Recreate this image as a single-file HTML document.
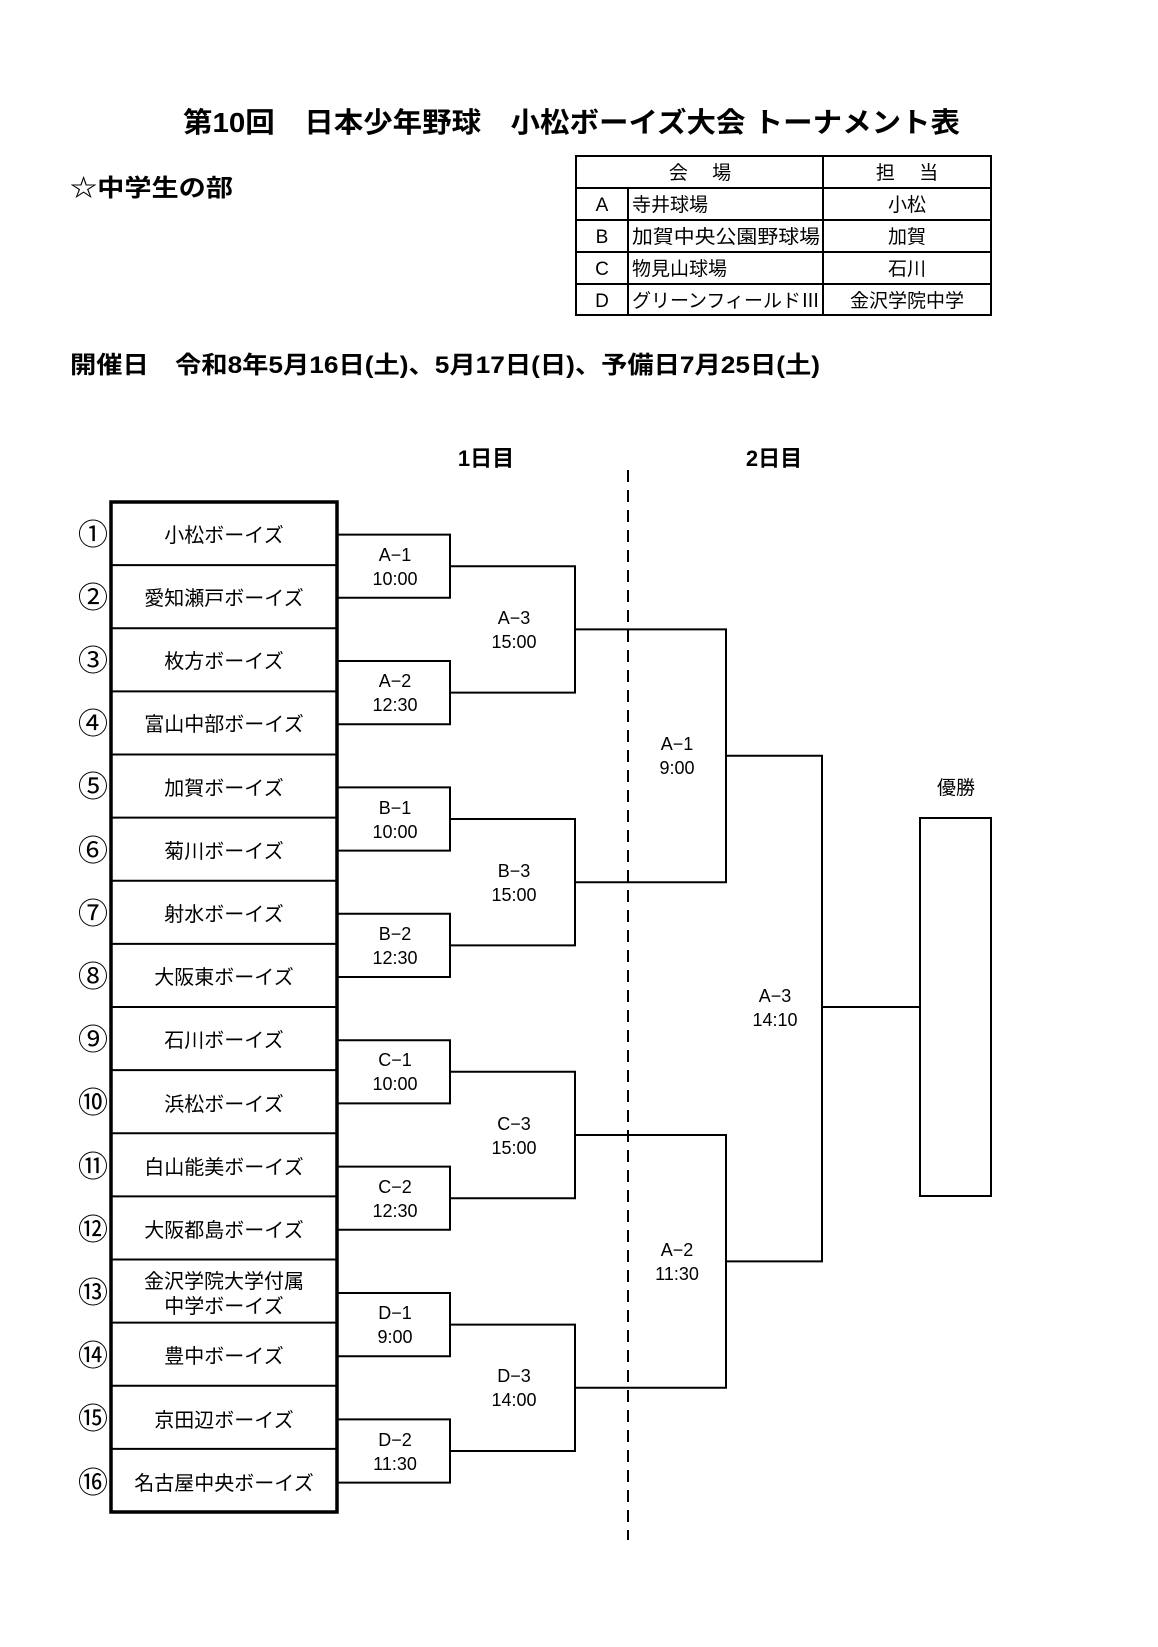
<!DOCTYPE html>
<html><head><meta charset="utf-8"><style>
html,body{margin:0;padding:0;background:#fff;}
svg{display:block;}
text{font-family:"Liberation Sans","Noto Sans CJK JP",sans-serif;fill:#000;}
.b{font-weight:bold;}
</style></head><body>
<svg width="1158" height="1647" viewBox="0 0 1158 1647" xmlns="http://www.w3.org/2000/svg">
<text class="b" x="183" y="132" font-size="28" textLength="777" lengthAdjust="spacingAndGlyphs">第10回　日本少年野球　小松ボーイズ大会 トーナメント表</text>
<text class="b" x="70" y="196" font-size="24" textLength="163" lengthAdjust="spacingAndGlyphs">☆中学生の部</text>
<text class="b" x="70" y="373" font-size="24" textLength="750" lengthAdjust="spacingAndGlyphs">開催日　令和8年5月16日(土)、5月17日(日)、予備日7月25日(土)</text>

<g stroke="#000" stroke-width="2" fill="none">
<rect x="576" y="156" width="415" height="159"/>
<line x1="576" y1="188" x2="991" y2="188"/><line x1="576" y1="220" x2="991" y2="220"/>
<line x1="576" y1="252" x2="991" y2="252"/><line x1="576" y1="284" x2="991" y2="284"/>
<line x1="628" y1="188" x2="628" y2="315"/><line x1="823" y1="156" x2="823" y2="315"/>
</g>
<g font-size="19">
<text x="700" y="179" text-anchor="middle">会　 場</text>
<text x="907" y="179" text-anchor="middle">担　 当</text>
<text x="602" y="211" text-anchor="middle">A</text><text x="632" y="211">寺井球場</text><text x="907" y="211" text-anchor="middle">小松</text>
<text x="602" y="243" text-anchor="middle">B</text><text x="632" y="243" textLength="188" lengthAdjust="spacingAndGlyphs">加賀中央公園野球場</text><text x="907" y="243" text-anchor="middle">加賀</text>
<text x="602" y="275" text-anchor="middle">C</text><text x="632" y="275">物見山球場</text><text x="907" y="275" text-anchor="middle">石川</text>
<text x="602" y="307" text-anchor="middle">D</text><text x="632" y="307" textLength="188" lengthAdjust="spacingAndGlyphs">グリーンフィールドⅢ</text><text x="907" y="307" text-anchor="middle">金沢学院中学</text>
</g>

<text class="b" x="486" y="466" font-size="22" text-anchor="middle">1日目</text>
<text class="b" x="774" y="466" font-size="22" text-anchor="middle">2日目</text>

<line x1="628" y1="470" x2="628" y2="1540" stroke="#000" stroke-width="2" stroke-dasharray="12,8"/>

<g stroke="#000" fill="none">
<rect x="111" y="502" width="226" height="1010" stroke-width="3.5"/>
<g stroke-width="2">
<line x1="111" y1="565.1" x2="337" y2="565.1"/><line x1="111" y1="628.2" x2="337" y2="628.2"/>
<line x1="111" y1="691.4" x2="337" y2="691.4"/><line x1="111" y1="754.5" x2="337" y2="754.5"/>
<line x1="111" y1="817.6" x2="337" y2="817.6"/><line x1="111" y1="880.8" x2="337" y2="880.8"/>
<line x1="111" y1="943.9" x2="337" y2="943.9"/><line x1="111" y1="1007" x2="337" y2="1007"/>
<line x1="111" y1="1070.1" x2="337" y2="1070.1"/><line x1="111" y1="1133.2" x2="337" y2="1133.2"/>
<line x1="111" y1="1196.4" x2="337" y2="1196.4"/><line x1="111" y1="1259.5" x2="337" y2="1259.5"/>
<line x1="111" y1="1322.6" x2="337" y2="1322.6"/><line x1="111" y1="1385.8" x2="337" y2="1385.8"/>
<line x1="111" y1="1448.9" x2="337" y2="1448.9"/>
</g>
<g stroke-width="2">
<polyline points="337,534.6 450,534.6 450,597.8 337,597.8"/>
<polyline points="337,661 450,661 450,724.2 337,724.2"/>
<polyline points="337,787.4 450,787.4 450,850.6 337,850.6"/>
<polyline points="337,913.8 450,913.8 450,977 337,977"/>
<polyline points="337,1040.2 450,1040.2 450,1103.4 337,1103.4"/>
<polyline points="337,1166.6 450,1166.6 450,1229.8 337,1229.8"/>
<polyline points="337,1293 450,1293 450,1356.2 337,1356.2"/>
<polyline points="337,1419.4 450,1419.4 450,1482.6 337,1482.6"/>
<polyline points="450,566.2 575,566.2 575,692.6 450,692.6"/>
<polyline points="450,819 575,819 575,945.4 450,945.4"/>
<polyline points="450,1071.8 575,1071.8 575,1198.2 450,1198.2"/>
<polyline points="450,1324.6 575,1324.6 575,1451 450,1451"/>
<polyline points="575,629.4 726,629.4 726,882.2 575,882.2"/>
<polyline points="575,1135 726,1135 726,1387.8 575,1387.8"/>
<polyline points="726,755.8 822,755.8 822,1261.4 726,1261.4"/>
<line x1="822" y1="1007" x2="920" y2="1007"/>
<rect x="920" y="818" width="71" height="378"/>
</g>
</g>

<g font-size="30" text-anchor="middle">
<text x="93" y="545">①</text><text x="93" y="608">②</text><text x="93" y="671">③</text><text x="93" y="734">④</text>
<text x="93" y="797">⑤</text><text x="93" y="861">⑥</text><text x="93" y="924">⑦</text><text x="93" y="987">⑧</text>
<text x="93" y="1050">⑨</text><text x="93" y="1113">⑩</text><text x="93" y="1177">⑪</text><text x="93" y="1240">⑫</text>
<text x="93" y="1303">⑬</text><text x="93" y="1366">⑭</text><text x="93" y="1429">⑮</text><text x="93" y="1493">⑯</text>
</g>
<g font-size="20" text-anchor="middle">
<text x="224" y="542">小松ボーイズ</text>
<text x="224" y="605">愛知瀬戸ボーイズ</text>
<text x="224" y="668">枚方ボーイズ</text>
<text x="224" y="731">富山中部ボーイズ</text>
<text x="224" y="795">加賀ボーイズ</text>
<text x="224" y="858">菊川ボーイズ</text>
<text x="224" y="921">射水ボーイズ</text>
<text x="224" y="984">大阪東ボーイズ</text>
<text x="224" y="1047">石川ボーイズ</text>
<text x="224" y="1111">浜松ボーイズ</text>
<text x="224" y="1174">白山能美ボーイズ</text>
<text x="224" y="1237">大阪都島ボーイズ</text>
<text x="224" y="1288">金沢学院大学付属</text>
<text x="224" y="1313">中学ボーイズ</text>
<text x="224" y="1363">豊中ボーイズ</text>
<text x="224" y="1427">京田辺ボーイズ</text>
<text x="224" y="1490">名古屋中央ボーイズ</text>
</g>

<g font-size="18" text-anchor="middle">
<text x="395" y="561">A−1</text><text x="395" y="585">10:00</text>
<text x="395" y="687">A−2</text><text x="395" y="711">12:30</text>
<text x="395" y="814">B−1</text><text x="395" y="838">10:00</text>
<text x="395" y="940">B−2</text><text x="395" y="964">12:30</text>
<text x="395" y="1066">C−1</text><text x="395" y="1090">10:00</text>
<text x="395" y="1193">C−2</text><text x="395" y="1217">12:30</text>
<text x="395" y="1319">D−1</text><text x="395" y="1343">9:00</text>
<text x="395" y="1446">D−2</text><text x="395" y="1470">11:30</text>
<text x="514" y="624">A−3</text><text x="514" y="648">15:00</text>
<text x="514" y="877">B−3</text><text x="514" y="901">15:00</text>
<text x="514" y="1130">C−3</text><text x="514" y="1154">15:00</text>
<text x="514" y="1382">D−3</text><text x="514" y="1406">14:00</text>
<text x="677" y="750">A−1</text><text x="677" y="774">9:00</text>
<text x="677" y="1256">A−2</text><text x="677" y="1280">11:30</text>
<text x="775" y="1002">A−3</text><text x="775" y="1026">14:10</text>
<text x="956" y="794" font-size="19">優勝</text>
</g>
</svg>
</body></html>
